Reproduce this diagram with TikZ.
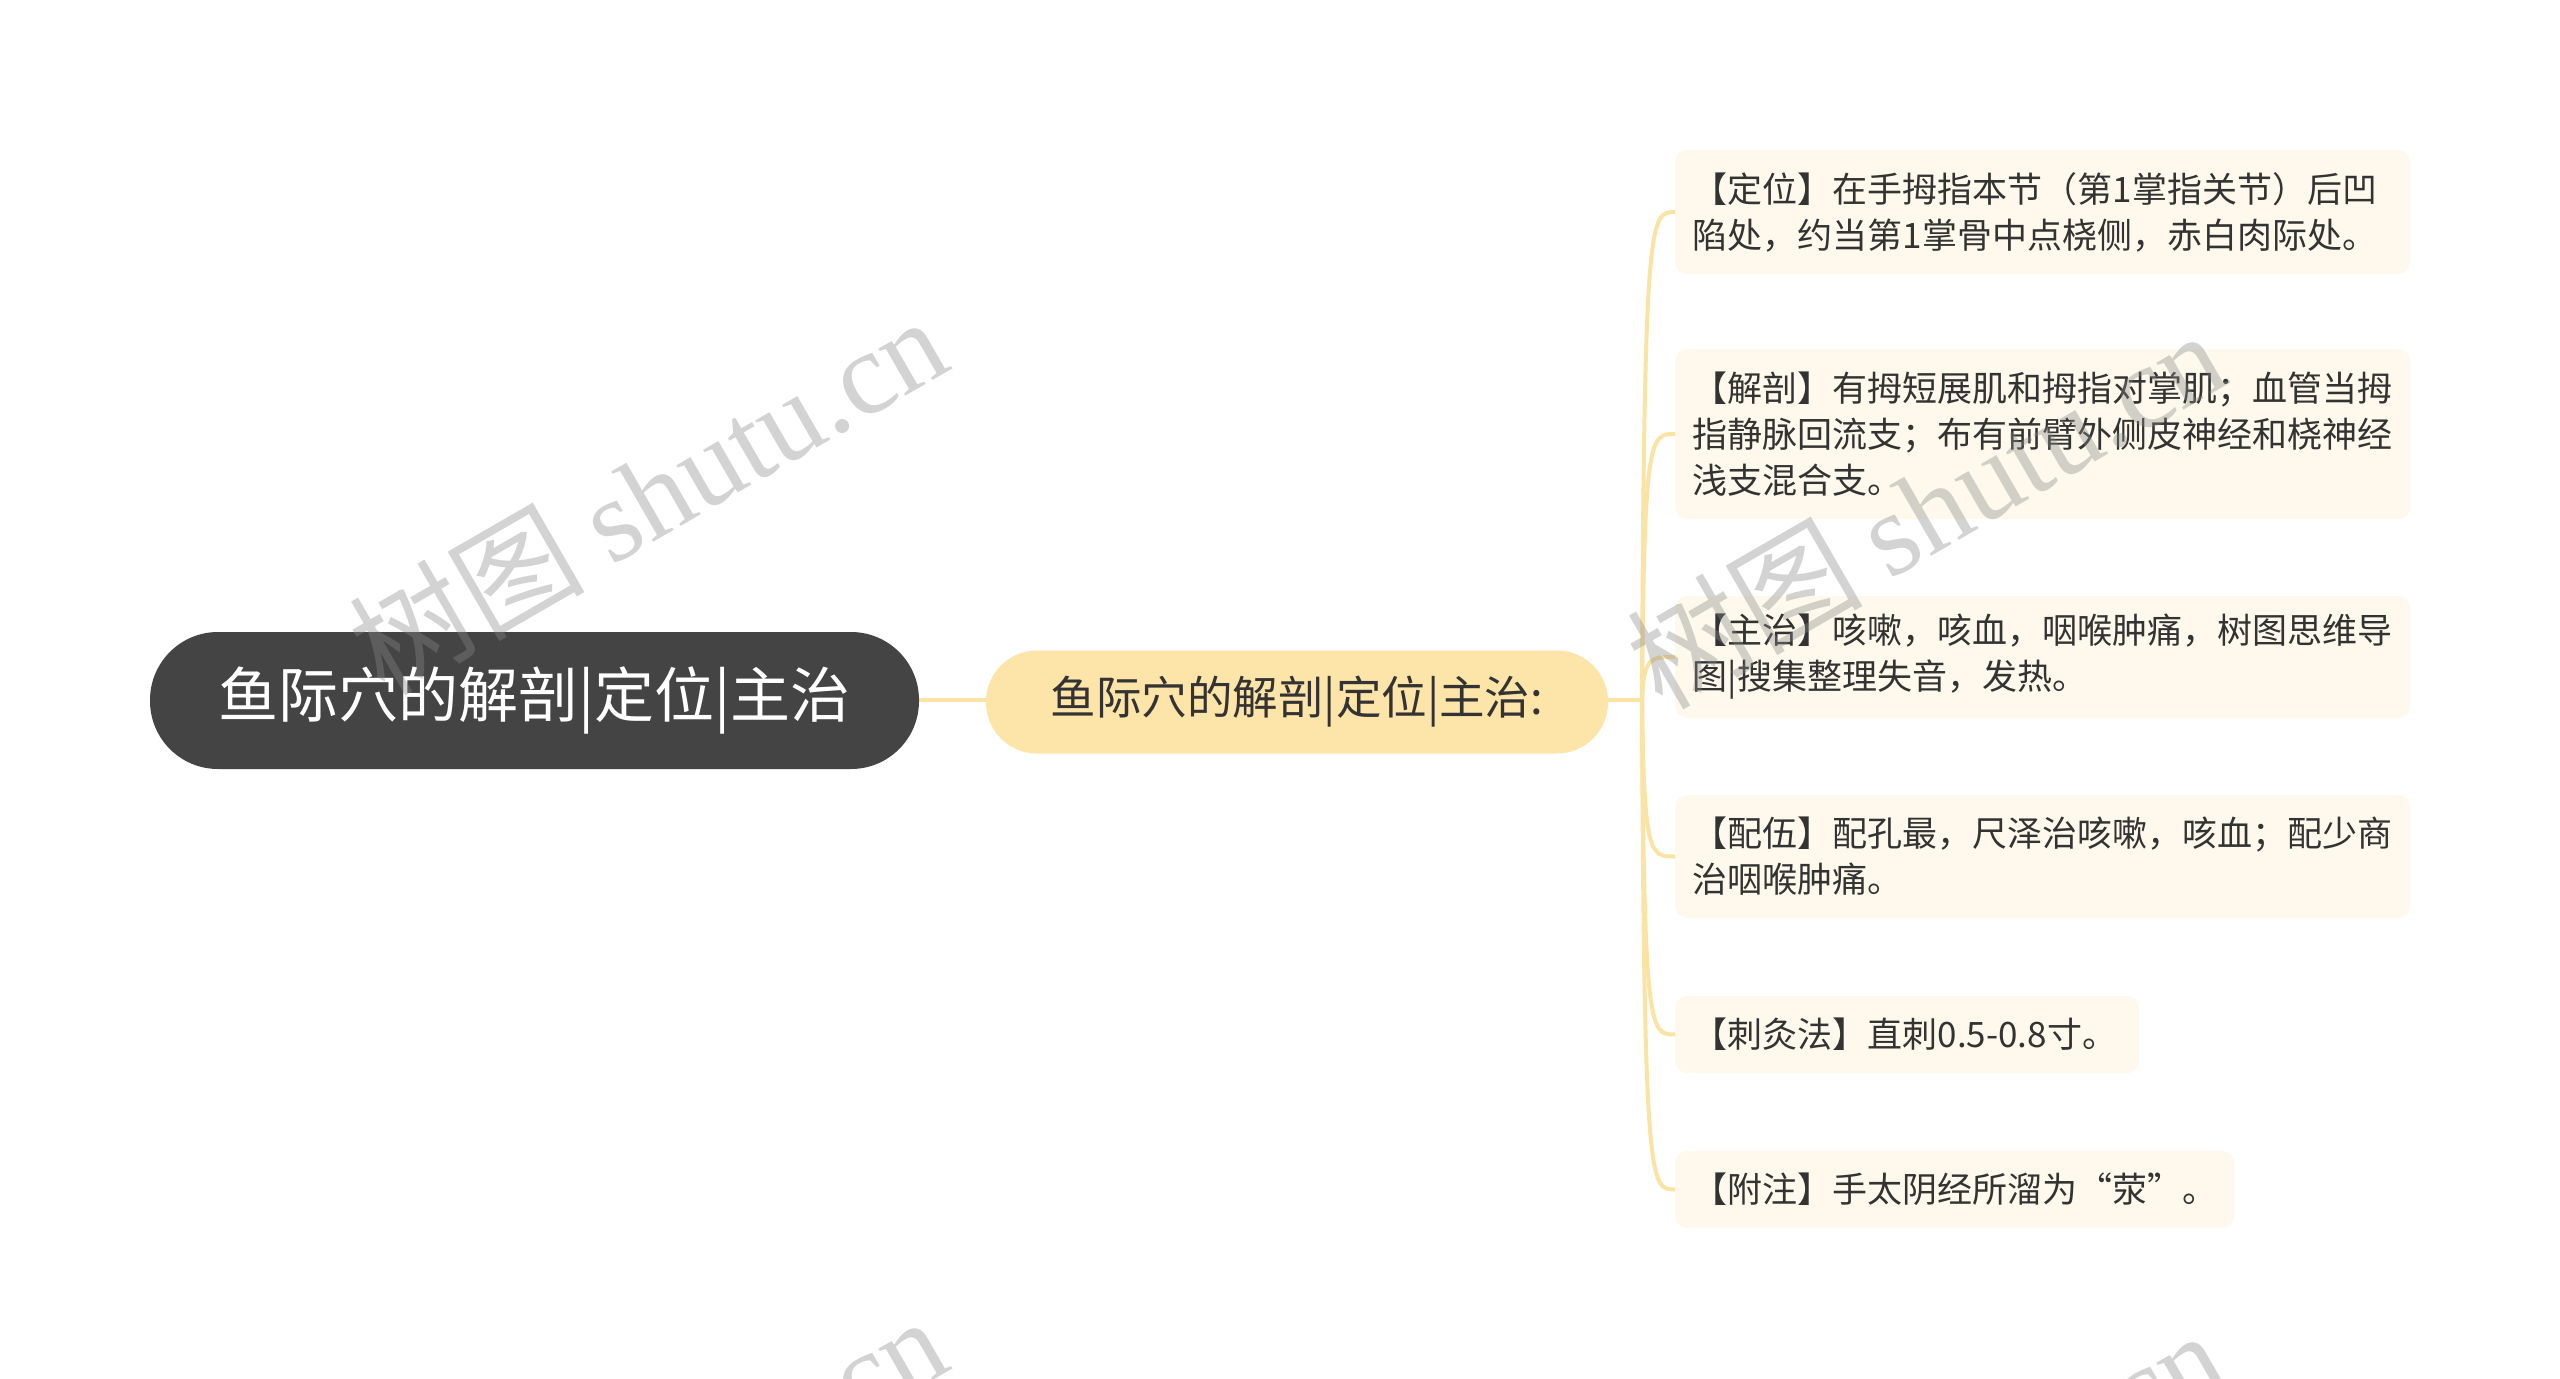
\documentclass[tikz,border=0pt]{standalone}
\usepackage{fontspec}
\usetikzlibrary{calc}
\setmainfont{Noto Sans CJK SC}
\newfontfamily\wmlatin{Liberation Serif}
\definecolor{rootfill}{HTML}{444444}
\definecolor{lonefill}{HTML}{FDE4A8}
\definecolor{connc}{HTML}{FBE3A5}
\definecolor{leaffill}{HTML}{FEF9EC}
\definecolor{txt}{HTML}{333333}
\definecolor{wm}{HTML}{888888}
\tikzset{
  rootbox/.style={fill=rootfill, rounded corners=68pt, minimum width=769pt, minimum height=137pt, inner sep=0pt, text=white, font=\fontsize{60}{60}\selectfont},
  lonebox/.style={fill=lonefill, rounded corners=51pt, minimum width=622pt, minimum height=103pt, inner sep=0pt, text=txt, font=\fontsize{45.5}{45.5}\selectfont},
  leafbox/.style={fill=leaffill, rounded corners=12pt, anchor=west, inner xsep=17.5pt, inner ysep=0pt, align=left, text=txt, font=\fontsize{35}{46}\selectfont},
  conn/.style={draw=connc, line width=4pt},
  wmark/.style={text=wm, opacity=0.37, rotate=30, font=\fontsize{118}{118}\selectfont}
}
\begin{document}
\begin{tikzpicture}[x=1pt,y=-1pt]
\useasboundingbox (0,0) rectangle (2560,1379);
\fill[white] (0,0) rectangle (2560,1379);
\coordinate (j) at (1642,700);
\coordinate (rc) at (534,700);
\coordinate (lc) at (1297,700);
\draw[conn] (rc) -- (lc);
\draw[conn] (lc) -- (j);
\node[rootbox] (root) at (534.5,700.5) {鱼际穴的解剖|定位|主治};
\node[lonebox] (lone) at (1297,702) {鱼际穴的解剖|定位|主治:};
\node[leafbox, text width=700pt, minimum height=124pt] (a) at (1675,212) {【定位】在手拇指本节（第1掌指关节）后凹\\陷处，约当第1掌骨中点桡侧，赤白肉际处。};
\node[leafbox, text width=700pt, minimum height=170pt] (b) at (1675,434) {【解剖】有拇短展肌和拇指对掌肌；血管当拇\\指静脉回流支；布有前臂外侧皮神经和桡神经\\浅支混合支。};
\node[leafbox, text width=700pt, minimum height=122pt] (c) at (1675,657) {【主治】咳嗽，咳血，咽喉肿痛，树图思维导\\图|搜集整理失音，发热。};
\node[leafbox, text width=700pt, minimum height=123pt] (d) at (1675,856.5) {【配伍】配孔最，尺泽治咳嗽，咳血；配少商\\治咽喉肿痛。};
\node[leafbox, text width=429pt, minimum height=77pt] (e) at (1675,1034.5) {【刺灸法】直刺0.5-0.8寸。};
\node[leafbox, text width=524pt, minimum height=77pt] (f) at (1675,1189.5) {【附注】手太阴经所溜为“荥”。};
\foreach \n in {a,b,c,d,e,f}{
  \draw[conn] (j) .. controls ($(j |- \n.west)+(2,0)$) and ($(\n.west)+(-25,0)$) .. (\n.west);
}
\begin{scope}
\clip (0,0) rectangle (2560,1379);
\node[wmark] (w1) at (647,494) {树图 {\wmlatin shutu.cn}};
\node[wmark] (w2) at (1925,508) {树图 {\wmlatin shutu.cn}};
\node[wmark] (w3) at (647,1494) {树图 {\wmlatin shutu.cn}};
\node[wmark] (w4) at (1925,1508) {树图 {\wmlatin shutu.cn}};
\end{scope}
\end{tikzpicture}
\end{document}
